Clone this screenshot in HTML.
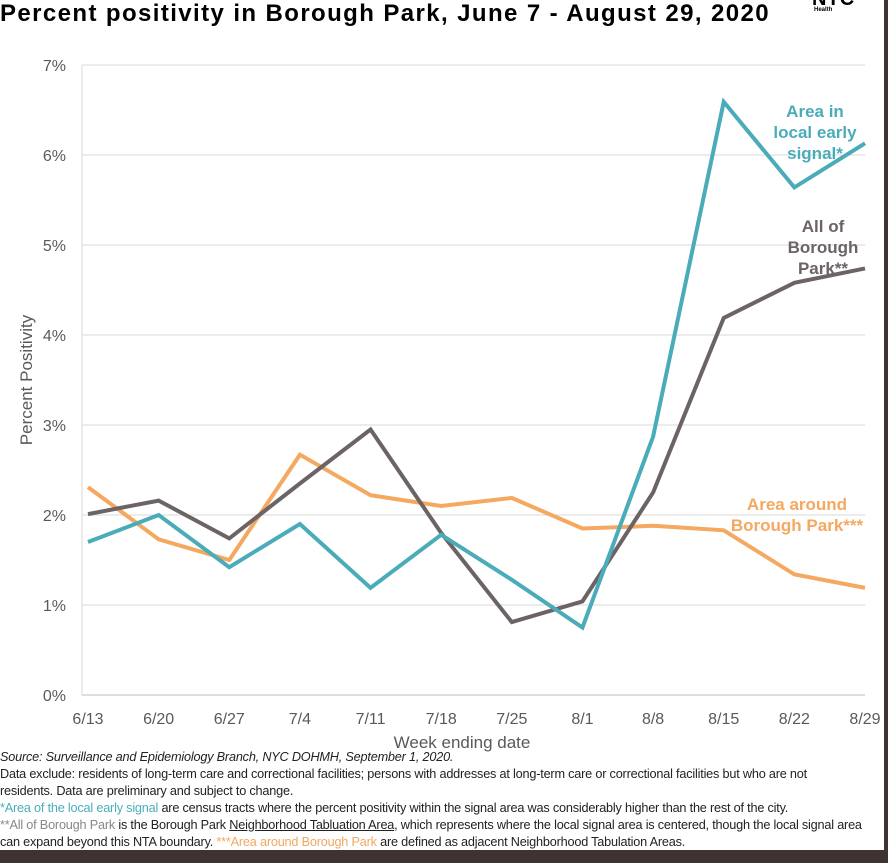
<!DOCTYPE html>
<html><head><meta charset="utf-8"><style>
body{margin:0;width:888px;height:863px;background:#fff;overflow:hidden;font-family:"Liberation Sans",sans-serif;position:relative}
.t{position:absolute;white-space:nowrap}
.foot{position:absolute;left:0;font-family:"Liberation Sans Narrow","Liberation Sans",sans-serif;font-size:12.7px;color:#222;white-space:nowrap;letter-spacing:-0.2px}
</style></head><body>
<div class="t" style="left:0;top:0px;font-size:24px;font-weight:bold;color:#000;letter-spacing:1.4px">Percent positivity in Borough Park, June 7 - August 29, 2020</div>
<div class="t" style="left:812px;top:-12px;font-size:20px;font-weight:900">NYC</div>
<div class="t" style="left:814px;top:7px;font-size:6px;font-weight:bold">Health</div>
<svg id="c" width="888" height="863" style="position:absolute;left:0;top:0"></svg>
<div class="foot" style="top:750px;font-style:italic">Source: Surveillance and Epidemiology Branch, NYC DOHMH, September 1, 2020.</div>
<div class="foot" style="top:767px">Data exclude: residents of long-term care and correctional facilities; persons with addresses at long-term care or correctional facilities but who are not</div>
<div class="foot" style="top:784px">residents. Data are preliminary and subject to change.</div>
<div class="foot" style="top:801px"><span style="color:#4aaeb8">*Area of the local early signal</span> are census tracts where the percent positivity within the signal area was considerably higher than the rest of the city.</div>
<div class="foot" style="top:818px"><span style="color:#888">**All of Borough Park</span> is the Borough Park <u>Neighborhood Tabluation Area</u>, which represents where the local signal area is centered, though the local signal area</div>
<div class="foot" style="top:835px">can expand beyond this NTA boundary. <span style="color:#f0a860">***Area around Borough Park</span> are defined as adjacent Neighborhood Tabulation Areas.</div>
<div style="position:absolute;left:0;top:850px;width:888px;height:13px;background:#3e3330"></div>
<div style="position:absolute;left:884px;top:0;width:4px;height:863px;background:#3e3330"></div>
<script>
const categories=["6/13","6/20","6/27","7/4","7/11","7/18","7/25","8/1","8/8","8/15","8/22","8/29"];
const signalArea=[1.70,2.00,1.42,1.90,1.19,1.78,1.28,0.75,2.87,6.59,5.64,6.13];
const allBoroughPark=[2.01,2.16,1.74,2.35,2.95,1.80,0.81,1.04,2.25,4.19,4.58,4.74];
const aroundBoroughPark=[2.31,1.73,1.50,2.67,2.22,2.10,2.19,1.85,1.88,1.83,1.34,1.19];
const yTicks=[0,1,2,3,4,5,6,7];
const svg=document.getElementById('c');const NS='http://www.w3.org/2000/svg';
const x0=82,x1=865,y0=695,y1=65;
const X=i=>88+i*(865-88)/(categories.length-1);
const Y=v=>y0-(v/7)*(y0-y1);
function mk(t,a,txt){const e=document.createElementNS(NS,t);for(const k in a)e.setAttribute(k,a[k]);if(txt!=null)e.textContent=txt;svg.appendChild(e);return e;}
yTicks.forEach(v=>{
 const l=mk('line',{x1:x0,x2:x1,y1:Y(v),y2:Y(v),stroke:v===0?'#bbb':'#d9d9d9','stroke-width':1});
 
 
 const t=mk('text',{x:66,y:Y(v)+6,'text-anchor':'end','font-size':16,fill:'#595959'},v+'%');
 
 
});
const ax=mk('line',{x1:x0,x2:x0,y1:y1,y2:y0,stroke:'#d9d9d9'});


categories.forEach((c,i)=>{
 const t=mk('text',{x:X(i),y:724,'text-anchor':'middle','font-size':16,fill:'#595959'},c);
 
 
});
const xt=mk('text',{x:462,y:748,'text-anchor':'middle','font-size':17,fill:'#595959'},'Week ending date');


const yt=mk('text',{x:0,y:0,'text-anchor':'middle','font-size':17,fill:'#595959',transform:'translate(32,380) rotate(-90)'},'Percent Positivity');


function line(d,col,name){
 const p=mk('polyline',{points:d.map((v,i)=>X(i)+','+Y(v)).join(' '),fill:'none',stroke:col,'stroke-width':4,'stroke-linejoin':'miter'});
 
 
}
line(aroundBoroughPark,'#f4a860','line-around-borough-park');
line(allBoroughPark,'#6b6364','line-all-borough-park');
line(signalArea,'#4aacb8','line-signal-area');
function lab(lines,x,y,col,name){lines.forEach((s,k)=>{const t=mk('text',{x:x,y:y+k*21,'text-anchor':'middle','font-size':17,'font-weight':'bold',fill:col},s);
 
 });}
lab(['Area in','local early','signal*'],815,117,'#4aacb8','label-signal-area');
lab(['All of','Borough','Park**'],823,232,'#6b6364','label-all-borough-park');
lab(['Area around','Borough Park***'],797,510,'#f4a860','label-around-borough-park');
</script>
</body></html>
